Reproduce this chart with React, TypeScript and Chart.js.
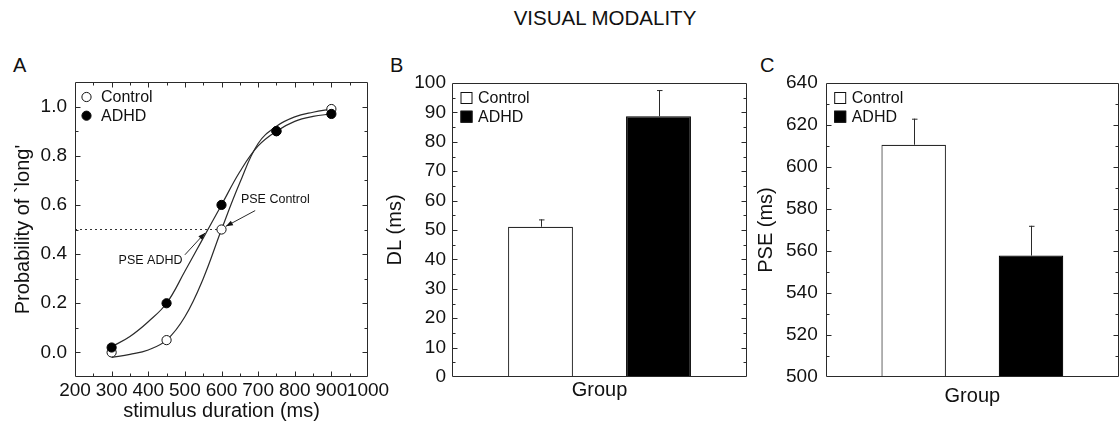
import React, { useEffect, useRef } from 'react';
import { Chart, registerables } from 'chart.js';

Chart.register(...registerables);

const FONT = "'Liberation Sans', Arial, Helvetica, sans-serif";
const INK = '#111111';
const LINE = '#2a2a2a';

Chart.defaults.font.family = FONT;
Chart.defaults.color = INK;

// ---------- shared ----------
const seriesNames = ['Control', 'ADHD'];
const seriesFills = ['#ffffff', '#000000'];

// ---------- Panel A : psychometric functions ----------
const durations = [300, 450, 600, 750, 900];
const controlProb = [0.0, 0.05, 0.5, 0.9, 0.99];
const adhdProb = [0.02, 0.2, 0.6, 0.9, 0.97];
const fitDurations = [300, 350, 400, 450, 500, 550, 600, 650, 700, 750, 800, 850, 900];
const controlFit = [-0.02, -0.008, 0.01, 0.05, 0.145, 0.3, 0.5, 0.69, 0.85, 0.92, 0.958, 0.977, 0.99];
const adhdFit = [0.023, 0.065, 0.125, 0.2, 0.33, 0.465, 0.6, 0.735, 0.84, 0.9, 0.94, 0.96, 0.97];
const criterionX = [200, 600];
const criterionY = [0.5, 0.5];
const xTicksA = [200, 300, 400, 500, 600, 700, 800, 900, 1000];
const yTicksA = [0, 0.2, 0.4, 0.6, 0.8, 1.0];
const pseNoteText = ['PSE Control', 'PSE ADHD'];
const pseNoteTextX = [653, 319];
const pseNoteTextY = [0.622, 0.374];
const pseArrowFromX = [692, 500];
const pseArrowFromY = [0.577, 0.397];
const pseArrowToX = [612, 555];
const pseArrowToY = [0.513, 0.486];

// ---------- Panel B : DL ----------
const groupLabels = ['Group'];
const dlMeans = [51.1, 88.7];
const dlErrors = [2.5, 8.9];
const yTicksB = [0, 10, 20, 30, 40, 50, 60, 70, 80, 90, 100];

// ---------- Panel C : PSE ----------
const pseMeans = [610.6, 557.8];
const pseErrors = [12.4, 14.2];
const yTicksC = [500, 520, 540, 560, 580, 600, 620, 640];

// ---------- plugins ----------
function framePlugin(xTicks: boolean, majorLen: number, minorLen: number) {
  return {
    id: 'frameTicks',
    afterDatasetsDraw(chart: any) {
      const { ctx, chartArea: a } = chart;
      const L = Math.round(a.left) + 0.5;
      const R = Math.round(a.right) - 0.5;
      const T = Math.round(a.top) + 0.5;
      const B = Math.round(a.bottom) - 0.5;
      ctx.save();
      ctx.strokeStyle = LINE;
      ctx.lineWidth = 1;
      ctx.beginPath();
      ctx.rect(L, T, R - L, B - T);
      const ys = chart.scales.y;
      const ym = ys.ticks.map((t: any) => t.value);
      const drawY = (v: number, len: number) => {
        const p = Math.round(ys.getPixelForValue(v)) + 0.5;
        if (p <= T + 1 || p >= B - 1) return;
        ctx.moveTo(L, p); ctx.lineTo(L + len, p);
        ctx.moveTo(R, p); ctx.lineTo(R - len, p);
      };
      ym.forEach((v: number) => drawY(v, majorLen));
      for (let i = 0; i < ym.length - 1; i++) drawY((ym[i] + ym[i + 1]) / 2, minorLen);
      if (xTicks) {
        const xs = chart.scales.x;
        const xm = xs.ticks.map((t: any) => t.value);
        const drawX = (v: number, len: number) => {
          const p = Math.round(xs.getPixelForValue(v)) + 0.5;
          if (p <= L + 1 || p >= R - 1) return;
          ctx.moveTo(p, B); ctx.lineTo(p, B - len);
          ctx.moveTo(p, T); ctx.lineTo(p, T + len);
        };
        xm.forEach((v: number) => drawX(v, majorLen));
        for (let i = 0; i < xm.length - 1; i++) drawX((xm[i] + xm[i + 1]) / 2, minorLen);
      }
      ctx.stroke();
      ctx.restore();
    },
  };
}

function legendPlugin(kind: 'circle' | 'square', markerDx: number) {
  return {
    id: 'innerLegend',
    afterDraw(chart: any) {
      const { ctx, chartArea: a } = chart;
      ctx.save();
      ctx.font = `16px ${FONT}`;
      ctx.textBaseline = 'middle';
      ctx.textAlign = 'left';
      seriesNames.forEach((name, i) => {
        const cy = a.top + 15 + i * 18.7;
        ctx.lineWidth = 1;
        ctx.strokeStyle = '#111';
        ctx.fillStyle = seriesFills[i];
        if (kind === 'circle') {
          ctx.beginPath();
          ctx.arc(a.left + markerDx, cy, 4.6, 0, Math.PI * 2);
          ctx.fill();
          ctx.stroke();
        } else {
          ctx.fillRect(a.left + markerDx, cy - 6, 12, 12);
          ctx.strokeRect(a.left + markerDx + 0.5, cy - 5.5, 11, 11);
        }
        ctx.fillStyle = INK;
        ctx.fillText(name, a.left + 26, cy + 1);
      });
      ctx.restore();
    },
  };
}

function errorBarPlugin(errors: number[]) {
  return {
    id: 'errorBars',
    afterDatasetsDraw(chart: any) {
      const { ctx } = chart;
      const ys = chart.scales.y;
      ctx.save();
      ctx.strokeStyle = LINE;
      ctx.lineWidth = 1;
      ctx.beginPath();
      chart.data.datasets.forEach((ds: any, i: number) => {
        const bar = chart.getDatasetMeta(i).data[0];
        const top = ys.getPixelForValue(ds.data[0] + errors[i]);
        const x = Math.round(bar.x) + 0.5;
        ctx.moveTo(x, bar.y);
        ctx.lineTo(x, top);
        ctx.moveTo(x - 2.5, top + 0.5);
        ctx.lineTo(x + 3, top + 0.5);
      });
      ctx.stroke();
      ctx.restore();
    },
  };
}

const annotationPlugin = {
  id: 'pseNotes',
  afterDatasetsDraw(chart: any) {
    const { ctx } = chart;
    const xs = chart.scales.x;
    const ys = chart.scales.y;
    ctx.save();
    ctx.font = `12.5px ${FONT}`;
    ctx.fillStyle = INK;
    ctx.textBaseline = 'middle';
    ctx.textAlign = 'left';
    pseNoteText.forEach((t, i) => {
      ctx.fillText(t, xs.getPixelForValue(pseNoteTextX[i]), ys.getPixelForValue(pseNoteTextY[i]));
      const x0 = xs.getPixelForValue(pseArrowFromX[i]);
      const y0 = ys.getPixelForValue(pseArrowFromY[i]);
      const x1 = xs.getPixelForValue(pseArrowToX[i]);
      const y1 = ys.getPixelForValue(pseArrowToY[i]);
      const ang = Math.atan2(y1 - y0, x1 - x0);
      ctx.strokeStyle = LINE;
      ctx.lineWidth = 1;
      ctx.beginPath();
      ctx.moveTo(x0, y0);
      ctx.lineTo(x1, y1);
      ctx.stroke();
      const hl = 7, hw = 2.6;
      ctx.beginPath();
      ctx.moveTo(x1, y1);
      ctx.lineTo(x1 - hl * Math.cos(ang) + hw * Math.sin(ang), y1 - hl * Math.sin(ang) - hw * Math.cos(ang));
      ctx.lineTo(x1 - hl * Math.cos(ang) - hw * Math.sin(ang), y1 - hl * Math.sin(ang) + hw * Math.cos(ang));
      ctx.closePath();
      ctx.fillStyle = '#111';
      ctx.fill();
      ctx.fillStyle = INK;
    });
    ctx.restore();
  },
};

// ---------- configs ----------
const baseOpts = {
  animation: false,
  responsive: false,
  devicePixelRatio: 1,
  events: [] as string[],
};
const noGrid = { display: false, drawTicks: false };
const noBorder = { display: false };

function configA(): any {
  const pts = (ys: number[]) => durations.map((x, i) => ({ x, y: ys[i] }));
  const fit = (ys: number[]) => fitDurations.map((x, i) => ({ x, y: ys[i] }));
  return {
    type: 'line',
    data: {
      datasets: [
        { label: 'ADHD', data: pts(adhdProb), showLine: false, pointRadius: 4.6, pointBorderWidth: 1,
          pointBackgroundColor: '#000', pointBorderColor: '#000', order: 0 },
        { label: 'Control', data: pts(controlProb), showLine: false, pointRadius: 4.6, pointBorderWidth: 1,
          pointBackgroundColor: '#fff', pointBorderColor: '#111', order: 1 },
        { label: 'Control fit', data: fit(controlFit), borderColor: LINE, borderWidth: 1.2, pointRadius: 0,
          tension: 0.4, fill: false, order: 2 },
        { label: 'ADHD fit', data: fit(adhdFit), borderColor: LINE, borderWidth: 1.2, pointRadius: 0,
          tension: 0.4, fill: false, order: 2 },
        { label: 'criterion', data: criterionX.map((x, i) => ({ x, y: criterionY[i] })), borderColor: '#333',
          borderWidth: 1, borderDash: [2, 3], pointRadius: 0, fill: false, order: 3 },
      ],
    },
    options: {
      ...baseOpts,
      layout: { padding: { left: 0, top: 82, right: 752, bottom: 0 } },
      plugins: { legend: { display: false }, tooltip: { enabled: false } },
      scales: {
        x: {
          type: 'linear', min: 200, max: 1000,
          afterBuildTicks: (s: any) => { s.ticks = xTicksA.map((value) => ({ value })); },
          afterFit: (s: any) => { s.height = 54; },
          ticks: { font: { size: 19 }, color: INK, padding: 2, maxRotation: 0, minRotation: 0, autoSkip: false,
            callback: (v: any) => String(v) },
          grid: noGrid, border: noBorder,
          title: { display: true, text: 'stimulus duration (ms)', font: { size: 20 }, color: INK,
            padding: { top: 0, bottom: 7.3 } },
        },
        y: {
          type: 'linear', min: -0.1, max: 1.1,
          afterBuildTicks: (s: any) => { s.ticks = yTicksA.map((value) => ({ value })); },
          afterFit: (s: any) => { s.width = 75; },
          ticks: { font: { size: 19 }, color: INK, padding: 8, callback: (v: any) => Number(v).toFixed(1) },
          grid: noGrid, border: noBorder,
          title: { display: true, text: "Probability of `long'", font: { size: 20 }, color: INK,
            padding: { top: 11, bottom: 0 } },
        },
      },
    },
    plugins: [framePlugin(true, 5, 3), legendPlugin('circle', 11.5), annotationPlugin],
  };
}

function configBar(means: number[], errors: number[], ticks: number[], min: number, max: number,
  title: string, left: number, right: number, top: number, yWidth: number, titlePad: number,
  yPad: number, xPad: number): any {
  return {
    type: 'bar',
    data: {
      labels: groupLabels,
      datasets: seriesNames.map((name, i) => ({
        label: name,
        data: [means[i]],
        backgroundColor: seriesFills[i],
        borderColor: i === 0 ? LINE : '#000',
        borderWidth: 1.2,
        barPercentage: 0.55,
        categoryPercentage: 0.8,
      })),
    },
    options: {
      ...baseOpts,
      layout: { padding: { left, top, right, bottom: 0 } },
      plugins: { legend: { display: false }, tooltip: { enabled: false } },
      scales: {
        x: {
          type: 'category',
          afterFit: (s: any) => { s.height = 431 - 377; },
          ticks: { font: { size: 20 }, color: INK, padding: xPad },
          grid: noGrid, border: noBorder,
        },
        y: {
          type: 'linear', min, max,
          afterBuildTicks: (s: any) => { s.ticks = ticks.map((value) => ({ value })); },
          afterFit: (s: any) => { s.width = yWidth; },
          ticks: { font: { size: 19 }, color: INK, padding: yPad, callback: (v: any) => String(v) },
          grid: noGrid, border: noBorder,
          title: { display: true, text: title, font: { size: 20 }, color: INK, padding: { top: titlePad, bottom: 0 } },
        },
      },
    },
    plugins: [framePlugin(false, 5, 3), legendPlugin('square', 8.5), errorBarPlugin(errors)],
  };
}

function ChartLayer({ build }: { build: () => any }) {
  const ref = useRef<HTMLCanvasElement>(null);
  useEffect(() => {
    const chart = new Chart(ref.current as HTMLCanvasElement, build());
    return () => chart.destroy();
  }, []);
  return (
    <canvas ref={ref} width={1120} height={431}
      style={{ position: 'absolute', left: 0, top: 0, width: 1120, height: 431 }} />
  );
}

const textStyle = (left: number, top: number, size: number): React.CSSProperties => ({
  position: 'absolute', left, top, fontSize: size, lineHeight: `${size}px`, fontFamily: FONT,
  color: INK, whiteSpace: 'nowrap',
});

export default function App() {
  return (
    <div style={{ position: 'fixed', left: 0, top: 0, width: 1120, height: 431, background: '#fff', overflow: 'hidden' }}>
      <div style={{ ...textStyle(405, 7.5, 20.5), width: 400, textAlign: 'center' }}>VISUAL MODALITY</div>
      <div style={textStyle(13, 54.5, 20)}>A</div>
      <div style={textStyle(390, 54.5, 20)}>B</div>
      <div style={textStyle(760, 54.5, 20)}>C</div>
      <ChartLayer build={configA} />
      <ChartLayer build={() => configBar(dlMeans, dlErrors, yTicksB, 0, 100, 'DL (ms)', 380, 373, 83, 72, 3, 6, 1)} />
      <ChartLayer build={() => configBar(pseMeans, pseErrors, yTicksC, 500, 640, 'PSE (ms)', 750, 1, 83, 75.7, 4.5, 8, 7.7)} />
    </div>
  );
}
